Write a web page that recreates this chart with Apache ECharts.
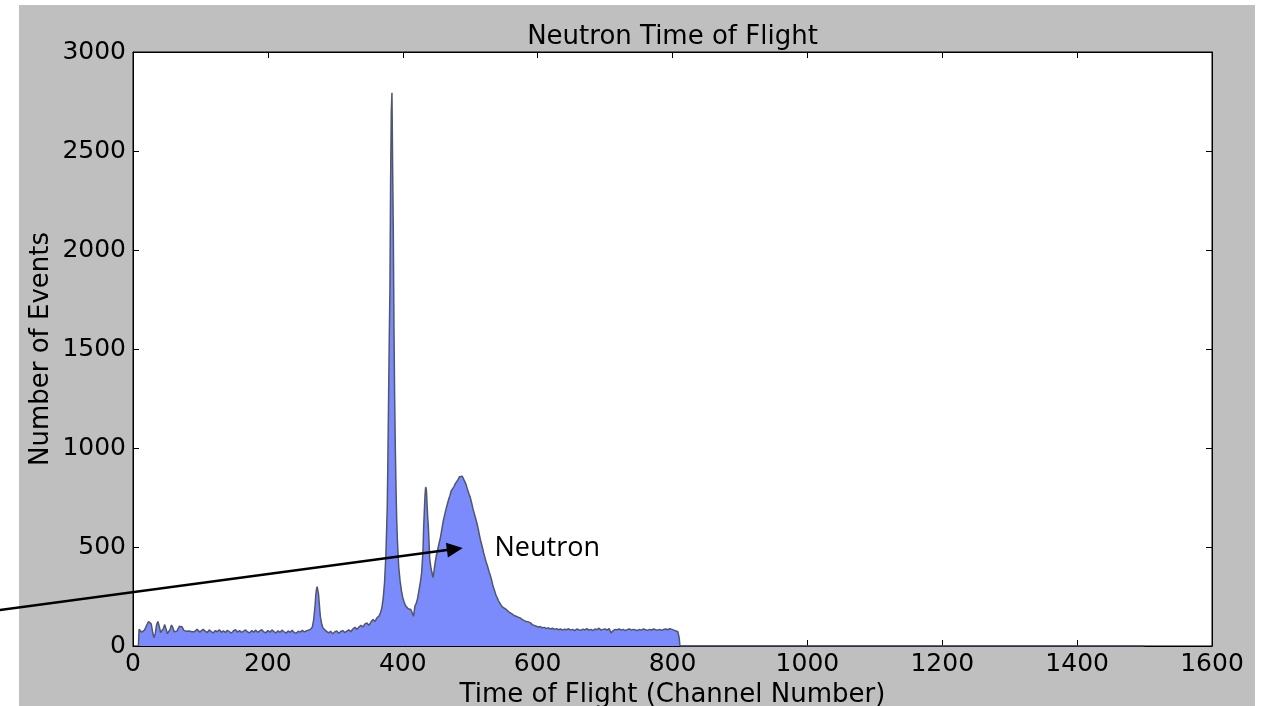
<!DOCTYPE html>
<html>
<head>
<meta charset="utf-8">
<script src="https://cdn.jsdelivr.net/npm/echarts@6/dist/echarts.min.js"></script>
<style>
  html, body { margin: 0; padding: 0; background: #ffffff; overflow: hidden; }
  #figure { position: absolute; left: 19px; top: 5px; width: 1236px; height: 701px; background: #bfbfbf; }
  #chart { position: absolute; left: 0; top: 0; width: 1268px; height: 706px; }
</style>
</head>
<body>
<div id="figure"></div>
<div id="chart"></div>
<script>
// Time-of-flight spectrum: [channel, number of events]
const startupRipple = [
  [8,0],[9,85],[11,90],[13,70],[15,62],[17,80],[19,95],[21,104],[23,124],[25,132],[27,112],
  [29,72],[31,42],[33,62],[35,108],[37,124],[39,98],[41,68],[43,58],[45,88],[47,108],[49,86],
  [51,62],[53,58],[55,84],[57,106],[59,94],[61,72],[63,64],[65,74],[67,88],[69,100],[71,106],
  [73,96],[75,80],[77,70],[79,74],[81,84],[83,76],[85,80],[87,72],[89,66],[91,72],[93,80],
  [95,84],[97,76],[99,70]
];
const flatBackground = [
  [101,78],[104,84],[107,75],[110,68],[113,81],[116,73],[119,66],[122,78],[125,72],[128,82],
  [131,69],[134,77],[137,68],[140,79],[143,72],[146,65],[149,77],[152,82],[155,70],[158,78],
  [161,69],[164,75],[167,81],[170,71],[173,66],[176,78],[179,70],[182,80],[185,69],[188,76],
  [191,82],[194,71],[197,67],[200,78],[203,70],[206,81],[209,73],[212,66],[215,77],[218,69],
  [221,80],[224,72],[227,65],[230,76],[233,69],[236,79],[239,68],[242,64],[245,75],[248,70],
  [251,79],[254,71],[257,76],[260,80],[263,84],[266,96]
];
const smallGammaPeak = [
  [268,135],[270,205],[271,255],[272,285],[273,300],[274,292],[275,265],[276,225],[277,180],
  [278,145],[280,108],[282,90],[284,80]
];
const preFlashBackground = [
  [287,74],[290,66],[293,74],[296,62],[299,71],[302,76],[305,64],[308,73],[311,78],[314,68],
  [317,75],[320,82],[323,72],[326,86],[329,94],[332,84],[335,96],[338,104],[341,96],[344,112],
  [347,116],[350,104],[353,122],[356,134],[359,124],[362,144],[365,152],[367,168],[369,192]
];
const gammaFlash = [
  [371,240],[373,320],[375,460],[377,700],[378,950],[379,1250],[380,1550],[381,1800],[382,2350],
  [383,2700],[384,2794],[385,2420],[386,2090],[387,1600],[388,1250],[389,1000],[390,800],
  [391,640],[392,540],[393,470],[394,400],[396,330],[398,280],[400,245],[402,222],[404,205],
  [406,198],[408,188],[410,196],[412,184],[414,190],[416,150],[418,200]
];
const secondPeak = [
  [420,215],[422,240],[424,280],[426,320],[428,370],[430,480],[431,600],[432,680],[433,760],
  [434,803],[435,790],[436,720],[437,650],[438,600],[439,520],[440,440],[442,390],[444,360],
  [445,345],[446,370]
];
const neutronBump = [
  [448,420],[450,460],[452,490],[454,520],[456,550],[458,590],[460,630],[462,660],[464,690],
  [466,715],[468,740],[470,760],[472,785],[474,780],[476,805],[478,820],[480,830],[482,840],
  [484,855],[485,862],[486,848],[488,858],[490,845],[492,830],[494,815],[496,790],[498,770],
  [500,752],[502,725],[504,695],[506,670],[508,645],[510,620],[512,590],[514,555],[516,525],
  [518,500],[520,470],[522,445],[524,420],[526,400],[528,375],[530,355],[532,330],[534,300],
  [536,282],[538,258],[540,245],[542,228],[544,217],[547,200],[550,192],[553,186],[556,176],
  [559,168],[562,162],[565,154],[568,150],[571,146],[574,142],[577,134],[580,128],[583,124],
  [586,122],[589,118],[592,108],[595,104]
];
const slowTail = [
  [598,100],[601,96],[604,98],[607,92],[610,94],[613,88],[616,92],[619,86],[622,90],[625,84],
  [628,88],[631,82],[634,86],[637,80],[640,85],[643,82],[646,87],[649,80],[652,84],[655,78],
  [658,86],[661,82],[664,79],[667,85],[670,81],[673,88],[676,80],[679,84],[682,78],[685,86],
  [688,82],[691,90],[694,80],[697,84],[700,86],[703,80],[706,88],[709,66],[712,78],[715,84],
  [718,82],[721,86],[724,80],[727,84],[730,78],[733,83],[736,86],[739,80],[742,84],[745,81],
  [748,78],[751,84],[754,80],[757,86],[760,82],[763,79],[766,84],[769,81],[772,86],[775,82],
  [778,80],[781,84],[784,79],[787,83],[790,86],[793,82],[796,88],[799,84],[802,80],[805,76],
  [808,72],[810,40],[811,0]
];
const emptyChannels = [[1500,0]];

// Axis ranges and tick spacing
const xRange = [0, 1600], xStep = 200;
const yRange = [0, 3000], yStep = 500;
const yTitle = 'Number of Events';

// Annotation: arrow from outside the axes to the neutron bump
const arrowTail = [-200, 181];
const arrowHead = [489, 495];
const arrowLabelAt = [536, 495];
const arrowLabel = 'Neutron';

const spectrum = [].concat(startupRipple, flatBackground, smallGammaPeak, preFlashBackground,
  gammaFlash, secondPeak, neutronBump, slowTail, emptyChannels);

const font = 'DejaVu Sans';
const ink = '#000000';
const gridLeft = 133;

function axisBase(extra) {
  return Object.assign({
    type: 'value',
    axisLine: { show: true, onZero: false, lineStyle: { color: ink, width: 1 } },
    axisTick: { show: true, inside: true, length: 6, lineStyle: { color: ink, width: 1 } },
    splitLine: { show: false }
  }, extra);
}

const plainNumber = v => String(v);

const chart = echarts.init(document.getElementById('chart'), null, { renderer: 'canvas' });

chart.setOption({
  animation: false,
  backgroundColor: 'transparent',
  grid: {
    left: gridLeft, top: 52, right: 56, bottom: 60,
    show: true, backgroundColor: '#ffffff', borderColor: ink, borderWidth: 1,
    containLabel: false,
    outerBoundsMode: 'none'
  },
  xAxis: [
    axisBase({
      position: 'bottom', min: xRange[0], max: xRange[1], interval: xStep,
      name: 'Time of Flight (Channel Number)', nameLocation: 'middle', nameGap: 30,
      nameTextStyle: { fontFamily: font, fontSize: 26, color: ink },
      axisLabel: { fontFamily: font, fontSize: 25, color: ink, margin: 6, formatter: plainNumber }
    }),
    axisBase({
      position: 'top', min: xRange[0], max: xRange[1], interval: xStep,
      name: 'Neutron Time of Flight', nameLocation: 'middle', nameGap: 2,
      nameTextStyle: { fontFamily: font, fontSize: 26, color: ink },
      axisLabel: { show: false }
    })
  ],
  yAxis: [
    axisBase({
      position: 'left', min: yRange[0], max: yRange[1], interval: yStep,
      axisLabel: { fontFamily: font, fontSize: 25, color: ink, margin: 7, formatter: plainNumber }
    }),
    axisBase({
      position: 'right', min: yRange[0], max: yRange[1], interval: yStep,
      axisLabel: { show: false }
    })
  ],
  series: [{
    type: 'line',
    xAxisIndex: 0,
    yAxisIndex: 0,
    data: spectrum,
    showSymbol: false,
    symbol: 'none',
    smooth: false,
    lineStyle: { color: '#50566e', width: 1.5 },
    areaStyle: { color: '#7b8bfb', opacity: 1, origin: 'start' },
    z: 3
  }]
});

// Arrow, label and y title placed through the chart's own coordinate conversion
function drawAnnotation() {
  const p0 = chart.convertToPixel({ gridIndex: 0 }, arrowTail);
  const p1 = chart.convertToPixel({ gridIndex: 0 }, arrowHead);
  const pl = chart.convertToPixel({ gridIndex: 0 }, arrowLabelAt);
  const yMid = chart.convertToPixel({ yAxisIndex: 0 }, (yRange[0] + yRange[1]) / 2);
  const dx = p1[0] - p0[0], dy = p1[1] - p0[1];
  const len = Math.sqrt(dx * dx + dy * dy);
  const ux = dx / len, uy = dy / len;
  const headLen = 16, headHalf = 7.5;
  const bx = p1[0] - ux * headLen, by = p1[1] - uy * headLen;
  chart.setOption({
    graphic: [
      {
        type: 'text', z: 50, x: gridLeft - 92, y: yMid, rotation: Math.PI / 2,
        style: { text: yTitle, fill: ink, font: '26px "DejaVu Sans"', textAlign: 'center', textVerticalAlign: 'middle' }
      },
      {
        type: 'line', z: 50,
        shape: { x1: p0[0], y1: p0[1], x2: bx + ux * 2, y2: by + uy * 2 },
        style: { stroke: ink, lineWidth: 2.5 }
      },
      {
        type: 'polygon', z: 50,
        shape: { points: [
          [p1[0], p1[1]],
          [bx - uy * headHalf, by + ux * headHalf],
          [bx + uy * headHalf, by - ux * headHalf]
        ] },
        style: { fill: ink }
      },
      {
        type: 'text', z: 50, x: pl[0], y: pl[1],
        style: { text: arrowLabel, fill: ink, font: '27px "Open Sans"', textAlign: 'left', textVerticalAlign: 'middle' }
      }
    ]
  });
}
drawAnnotation();
</script>
</body>
</html>
